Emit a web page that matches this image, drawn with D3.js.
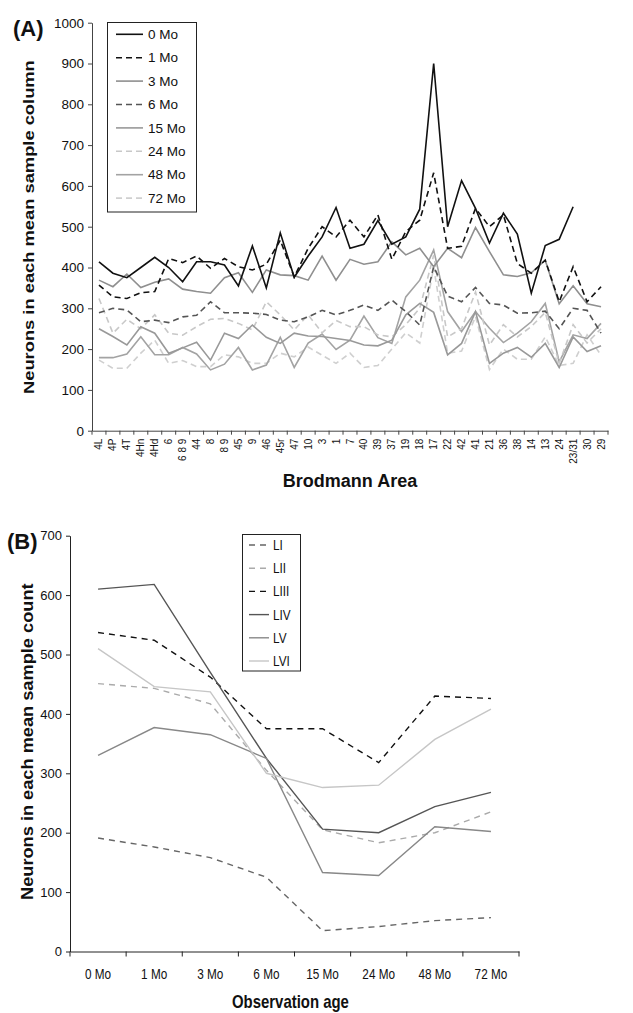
<!DOCTYPE html>
<html>
<head>
<meta charset="utf-8">
<script src="https://cdn.jsdelivr.net/npm/d3@7"></script>
<style>
  body { margin: 0; background: #fff; }
  svg { display: block; }
  text { font-family: "Liberation Sans", Arial, sans-serif; fill: #111; }
</style>
</head>
<body>
<div id="chart"></div>
<script>
// ---- panel A data: Brodmann areas x observation age ----
const areas = ['4L', '4P', '4T', '4Hn', '4Hd', '6', '6 8 9', '44', '8', '8 9', '45', '9', '46', '45r', '47',
  '10', '3', '1', '7', '40', '39', '37', '19', '18', '17', '22', '42', '41', '21', '36', '38', '14', '13',
  '24', '23/31', '30', '29'];

const mo0 = [414, 386, 375, 400, 425, 400, 365, 414, 414, 406, 355, 453, 350, 485, 376,
  428, 475, 547, 447, 457, 515, 457, 475, 543, 900, 500, 613, 545, 460, 533, 482, 337, 454,
  469, 549, null, null];
const mo1 = [357, 328, 324, 338, 341, 422, 412, 428, 398, 422, 402, 394, 408, 467, 377,
  447, 500, 475, 516, 475, 529, 420, 488, 516, 632, 447, 452, 545, 500, 529, 410, 386, 418,
  316, 402, 316, 353];
const mo3 = [369, 353, 384, 351, 364, 372, 347, 341, 337, 375, 387, 339, 394, 382, 380,
  369, 428, 369, 420, 408, 414, 463, 431, 447, 402, 447, 424, 498, 439, 382, 378, 387, 418,
  311, 355, 311, 304];
const mo6 = [289, 300, 296, 267, 271, 265, 279, 283, 316, 289, 289, 288, 285, 271, 267,
  279, 295, 284, 295, 308, 295, 320, 292, 259, 402, 330, 316, 351, 312, 308, 288, 289, 293,
  250, 300, 295, 239];
const mo15 = [250, 231, 210, 255, 239, 190, 203, 217, 173, 239, 226, 259, 229, 214, 239,
  232, 231, 226, 221, 210, 208, 222, 284, 312, 290, 186, 214, 292, 165, 190, 204, 180, 214,
  155, 230, 194, 208];
const mo24 = [324, 239, 273, 250, 284, 239, 234, 255, 273, 275, 263, 247, 316, 284, 247,
  284, 240, 270, 255, 255, 235, 230, 260, 300, 430, 230, 250, 340, 210, 260, 230, 255, 290,
  165, 260, 215, 250];
const mo48 = [179, 179, 188, 230, 186, 186, 204, 188, 149, 163, 204, 149, 161, 229, 155,
  215, 237, 199, 222, 281, 228, 214, 328, 369, 443, 292, 243, 292, 251, 216, 239, 267, 312,
  169, 235, 226, 263];
const mo72 = [173, 153, 153, 190, 222, 165, 172, 157, 157, 186, 181, 165, 165, 190, 181,
  205, 185, 165, 190, 155, 160, 200, 240, 215, 400, 190, 195, 280, 150, 200, 175, 175, 230,
  160, 165, 235, 185];
const yTicksA = [0, 100, 200, 300, 400, 500, 600, 700, 800, 900, 1000];

// ---- panel B data: layers x observation age ----
const ages = ['0 Mo', '1 Mo', '3 Mo', '6 Mo', '15 Mo', '24 Mo', '48 Mo', '72 Mo'];
const LI = [191, 176, 158, 125, 35, 42, 52, 57];
const LII = [451, 443, 417, 305, 205, 183, 200, 235];
const LIII = [537, 524, 462, 375, 375, 318, 430, 426];
const LIV = [610, 618, 470, 325, 206, 200, 244, 268];
const LV = [330, 377, 365, 325, 133, 128, 210, 202];
const LVI = [510, 446, 437, 300, 276, 280, 357, 408];
const yTicksB = [0, 100, 200, 300, 400, 500, 600, 700];

const seriesA = [
  { name: '0 Mo', values: mo0, color: '#111', dash: null },
  { name: '1 Mo', values: mo1, color: '#111', dash: '6,4' },
  { name: '3 Mo', values: mo3, color: '#8f8f8f', dash: null },
  { name: '6 Mo', values: mo6, color: '#555', dash: '6,4' },
  { name: '15 Mo', values: mo15, color: '#999', dash: null },
  { name: '24 Mo', values: mo24, color: '#c8c8c8', dash: '6,4' },
  { name: '48 Mo', values: mo48, color: '#a3a3a3', dash: null },
  { name: '72 Mo', values: mo72, color: '#cfcfcf', dash: '6,4' }
];
const seriesB = [
  { name: 'LI', values: LI, color: '#666', dash: '6,5' },
  { name: 'LII', values: LII, color: '#aaa', dash: '6,5' },
  { name: 'LIII', values: LIII, color: '#111', dash: '6,5' },
  { name: 'LIV', values: LIV, color: '#555', dash: null },
  { name: 'LV', values: LV, color: '#888', dash: null },
  { name: 'LVI', values: LVI, color: '#c6c6c6', dash: null }
];

// squeeze a text horizontally (the panel B lettering is condensed)
function condense(sel, k) {
  sel.each(function () {
    const w = this.getComputedTextLength();
    d3.select(this)
      .attr('textLength', w * k)
      .attr('lengthAdjust', 'spacingAndGlyphs');
  });
}

// stretch/squeeze a text to a given length with a scale transform
function fitTo(sel, base, len) {
  sel.each(function () {
    const w = this.getComputedTextLength();
    d3.select(this).attr('transform', `${base} scale(${len / w},1)`);
  });
}

const svg = d3.select('#chart').append('svg')
  .attr('width', 633)
  .attr('height', 1013);

// ================= panel A =================
const xA = d3.scaleBand().domain(areas).range([92, 608]);
const yA = d3.scaleLinear().domain([0, 1000]).range([430.7, 22.7]);

const gA = svg.append('g');

gA.append('g')
  .attr('transform', 'translate(92,0)')
  .call(d3.axisLeft(yA).tickValues(yTicksA).tickFormat(d3.format('d'))
    .tickSize(4).tickSizeOuter(0).tickPadding(4))
  .call(g => g.select('.domain').attr('stroke', '#444'))
  .call(g => g.selectAll('.tick line').attr('stroke', '#444'))
  .call(g => g.selectAll('text').attr('font-size', 13.5).attr('fill', '#222'));

const xAxisA = gA.append('g')
  .attr('transform', 'translate(0,430.7)')
  .call(d3.axisBottom(xA).tickSize(0).tickSizeOuter(0))
  .call(g => g.select('.domain').attr('stroke', '#444'));
xAxisA.selectAll('text')
  .attr('font-size', 10)
  .attr('fill', '#222')
  .attr('transform', 'rotate(-90)')
  .attr('x', -8)
  .attr('y', 0)
  .attr('dy', '0.35em')
  .style('text-anchor', 'end');
// category boundary ticks
xAxisA.selectAll('.bound')
  .data(areas.map(d => xA(d)).concat([xA.range()[1]]))
  .join('line')
  .attr('class', 'bound')
  .attr('x1', d => d).attr('x2', d => d)
  .attr('y1', 0).attr('y2', 4)
  .attr('stroke', '#444');

const lineA = d3.line()
  .defined(d => d != null)
  .x((d, i) => xA(areas[i]) + xA.bandwidth() / 2)
  .y(d => yA(d));

// draw light ones first so dark lines sit on top
gA.selectAll('.lineA')
  .data(seriesA.slice().reverse())
  .join('path')
  .attr('class', 'lineA')
  .attr('fill', 'none')
  .attr('stroke', d => d.color)
  .attr('stroke-width', 1.6)
  .attr('stroke-dasharray', d => d.dash)
  .attr('d', d => lineA(d.values));

// legend A
const legA = gA.append('g');
legA.append('rect')
  .attr('x', 107.5).attr('y', 22.5)
  .attr('width', 89).attr('height', 189.5)
  .attr('fill', '#fff')
  .attr('stroke', '#222');
seriesA.forEach((s, i) => {
  const y = 34.3 + i * 23.4;
  legA.append('line')
    .attr('x1', 116).attr('x2', 143)
    .attr('y1', y).attr('y2', y)
    .attr('stroke', s.color)
    .attr('stroke-width', 1.6)
    .attr('stroke-dasharray', s.dash);
  legA.append('text')
    .attr('x', 148).attr('y', y)
    .attr('dy', '0.35em')
    .attr('font-size', 13.5)
    .attr('fill', '#222')
    .text(s.name);
});

gA.append('text')
  .attr('x', 13).attr('y', 36)
  .attr('font-size', 22)
  .attr('font-weight', 'bold')
  .text('(A)');

gA.append('text')
  .attr('text-anchor', 'start')
  .attr('font-size', 15)
  .attr('font-weight', 'bold')
  .text('Neurons in each mean sample column')
  .call(fitTo, 'translate(34,394) rotate(-90)', 334);

gA.append('text')
  .attr('x', 350).attr('y', 487)
  .attr('text-anchor', 'middle')
  .attr('font-size', 18)
  .attr('font-weight', 'bold')
  .text('Brodmann Area');

// ================= panel B =================
const xB = d3.scaleBand().domain(ages).range([70, 519]);
const yB = d3.scaleLinear().domain([0, 700]).range([951.5, 535.7]);

const gB = svg.append('g');

gB.append('g')
  .attr('transform', 'translate(70,0)')
  .call(d3.axisLeft(yB).tickValues(yTicksB).tickSize(4).tickSizeOuter(0).tickPadding(4))
  .call(g => g.select('.domain').attr('stroke', '#222'))
  .call(g => g.selectAll('.tick line').attr('stroke', '#222'))
  .call(g => g.selectAll('text').attr('font-size', 13).attr('fill', '#222'));

const xAxisB = gB.append('g')
  .attr('transform', 'translate(0,951.5)')
  .call(d3.axisBottom(xB).tickSize(0).tickSizeOuter(0).tickPadding(18))
  .call(g => g.select('.domain').attr('stroke', '#222'));
xAxisB.selectAll('text')
  .attr('font-size', 14)
  .attr('fill', '#222')
  .call(condense, 0.84);
xAxisB.selectAll('.bound')
  .data(ages.map(d => xB(d)).concat([xB.range()[1]]))
  .join('line')
  .attr('class', 'bound')
  .attr('x1', d => d).attr('x2', d => d)
  .attr('y1', 0).attr('y2', 5)
  .attr('stroke', '#222');

const lineB = d3.line()
  .x((d, i) => xB(ages[i]) + xB.bandwidth() / 2)
  .y(d => yB(d));

gB.selectAll('.lineB')
  .data(seriesB)
  .join('path')
  .attr('class', 'lineB')
  .attr('fill', 'none')
  .attr('stroke', d => d.color)
  .attr('stroke-width', 1.4)
  .attr('stroke-dasharray', d => d.dash)
  .attr('d', d => lineB(d.values));

const legB = gB.append('g');
legB.append('rect')
  .attr('x', 242.5).attr('y', 534.5)
  .attr('width', 58).attr('height', 136.5)
  .attr('fill', '#fff')
  .attr('stroke', '#222');
seriesB.forEach((s, i) => {
  const y = 545 + i * 23.2;
  legB.append('line')
    .attr('x1', 249).attr('x2', 269)
    .attr('y1', y).attr('y2', y)
    .attr('stroke', s.color)
    .attr('stroke-width', 1.4)
    .attr('stroke-dasharray', s.dash);
  legB.append('text')
    .attr('x', 273).attr('y', y)
    .attr('dy', '0.35em')
    .attr('font-size', 14)
    .attr('fill', '#222')
    .text(s.name)
    .call(condense, 0.84);
});

gB.append('text')
  .attr('x', 7).attr('y', 549)
  .attr('font-size', 22)
  .attr('font-weight', 'bold')
  .text('(B)');

gB.append('text')
  .attr('text-anchor', 'start')
  .attr('font-size', 16)
  .attr('font-weight', 'bold')
  .text('Neurons in each mean sample count')
  .call(fitTo, 'translate(33,900) rotate(-90)', 317);

gB.append('text')
  .attr('text-anchor', 'start')
  .attr('font-size', 18)
  .attr('font-weight', 'bold')
  .text('Observation age')
  .call(fitTo, 'translate(232,1008)', 117);
</script>
</body>
</html>
